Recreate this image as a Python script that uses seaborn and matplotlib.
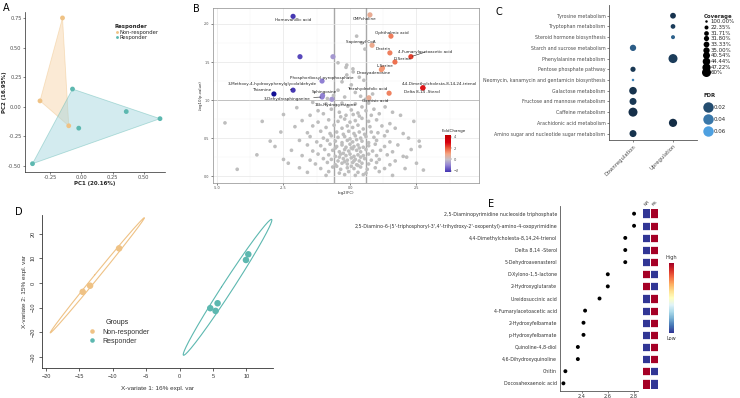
import numpy as np
import pandas as pd
import matplotlib
matplotlib.use("Agg")
import matplotlib.pyplot as plt
import seaborn as sns
from matplotlib.colors import LinearSegmentedColormap, Normalize
from matplotlib.cm import ScalarMappable
from matplotlib.lines import Line2D
from matplotlib.ticker import FormatStrFormatter

# ─────────────────────────────────────────
# DATA
# ─────────────────────────────────────────
# A: PCA scores
pca_pc1 = [-0.15, -0.33, -0.10, -0.07, 0.36, 0.63, -0.39, -0.02]
pca_pc2 = [0.75, 0.05, -0.16, 0.15, -0.04, -0.10, -0.48, -0.18]
pca_group = ['Non-responder'] * 3 + ['Responder'] * 5

# B: volcano, highlighted metabolites
sig_names = ['Homovanillic acid', '', '', 'Phosphoribosyl pyrophosphate',
             '3-Methoxy-4-hydroxyphenylglycolaldehyde', 'Thiamine', 'Sphingosine',
             '3-Dehydrosphinganine', '16b-Hydroxyestrone', 'CMPcholine',
             'Ophthalmic acid', 'Sapienoyl CoA', 'Dextrin', '4-Fumarylacetoacetic acid',
             'D-Serine', 'L-Serine', 'Deoxyadenosine',
             '4,4-Dimethylcholesta-8,14,24-trienol', 'Delta 8,14 -Sterol',
             'Tetrahydrofolic acid', 'Gentisic acid']
sig_fc = [-2.14, -1.88, -0.64, -1.05, -2.14, -2.86, -1.03, -1.05, -0.68, 0.75,
          1.54, 0.83, 1.50, 2.29, 1.69, 1.22, 1.18, 2.74, 2.74, 1.47, 0.71]
sig_logp = [2.10, 1.57, 1.57, 1.25, 1.13, 1.08, 1.06, 1.04, 1.01, 2.12,
            1.84, 1.72, 1.62, 1.57, 1.50, 1.42, 1.40, 1.16, 1.16, 1.09, 1.03]

# B: volcano, non-significant metabolites
bg_fc = [0.25, 0.44, 0.56, -0.12, 0.12, -0.12, 0.35, -0.30, 0.05, 0.52, -0.45, 0.20, 0.40, -0.20, 0.58, -0.62, 0.85, -0.85,
         -0.45, -0.15, 0.11,
         -2.0, -1.4, -0.9, -0.55, -0.3, -0.08, 0.2, 0.45, 0.7, 1.32, -1.2, -0.7, -0.4, 0.05, 0.3, 0.6, 0.9, 1.6,
         -2.5, -1.5, -1.0, -0.15, 0.12, 0.8, 1.1, 1.9,
         -4.7, -3.3, -1.8, -1.2, -0.8, -0.45, -0.2, 0.0, 0.2, 0.45, 0.7, 1.0, 1.5, 2.4,
         -2.07, -1.4, -0.9, -0.6, -0.3, -0.1, 0.1, 0.3, 0.5, 0.75, 1.2, 1.7, -0.35, 0.35,
         -2.6, -1.6, -1.1, -0.75, -0.5, -0.25, -0.05, 0.15, 0.35, 0.55, 0.8, 1.05, 1.4, 2.0,
         -1.5, -1.0, -0.7, -0.45, -0.2, 0.0, 0.2, 0.4, 0.6, 0.9, 1.3, 2.2,
         -3.0, -1.9, -1.25, -0.85, -0.55, -0.3, -0.1, 0.1, 0.25, 0.45, 0.7, 1.0, 1.5, 2.6,
         -2.82, -1.6, -1.1, -0.75, -0.5, -0.3, -0.15, 0.0, 0.15, 0.3, 0.5, 0.7, 0.95, 1.3, 1.8, 2.63,
         -2.2, -1.4, -0.95, -0.65, -0.4, -0.2, -0.05, 0.1, 0.25, 0.4, 0.6, 0.85, 1.15, 1.6, 2.3,
         -0.55, 0.05, 0.35, -0.25,
         -3.5, -1.8, -1.2, -0.8, -0.55, -0.35, -0.15, 0.0, 0.15, 0.3, 0.5, 0.7, 1.0, 1.4, 2.0,
         -2.5, -1.5, -1.0, -0.7, -0.45, -0.25, -0.1, 0.05, 0.2, 0.35, 0.55, 0.8, 1.1, 1.7, 2.13,
         -2.32, -1.3, -0.85, -0.55, -0.3, -0.1, 0.1, 0.25, 0.45, 0.7, 1.0, 1.5, 2.5,
         -0.4, 0.4, -0.2, 0.15,
         -4.24, -1.9, -1.1, -0.65, -0.35, -0.1, 0.15, 0.4, 0.65, 0.95, 1.3, 2.07,
         -1.6, -0.8, -0.4, -0.05, 0.3, 0.6, 1.1, 2.76,
         -0.9, -0.2, 0.2, 0.5, 1.6, -0.5, 0.05, 0.3]
bg_logp = [1.84, 1.75, 1.67, 1.46, 1.37, 1.33, 1.30, 1.24, 1.20, 1.26, 1.13, 1.10, 1.05, 1.04, 1.01, 1.06, 1.08, 1.02,
           1.49, 1.43, 1.41,
           0.90, 0.97, 0.95, 0.93, 0.96, 0.92, 0.95, 0.91, 0.96, 0.91, 0.86, 0.88, 0.84, 0.87, 0.83, 0.86, 0.88, 0.84,
           0.81, 0.80, 0.82, 0.80, 0.81, 0.80, 0.82, 0.80,
           0.70, 0.72, 0.73, 0.71, 0.74, 0.72, 0.75, 0.71, 0.73, 0.76, 0.72, 0.74, 0.69, 0.72,
           0.65, 0.66, 0.64, 0.67, 0.63, 0.66, 0.64, 0.67, 0.62, 0.65, 0.66, 0.63, 0.78, 0.79,
           0.58, 0.57, 0.59, 0.56, 0.58, 0.55, 0.59, 0.56, 0.58, 0.55, 0.58, 0.57, 0.59, 0.56,
           0.52, 0.50, 0.53, 0.51, 0.52, 0.49, 0.53, 0.50, 0.52, 0.51, 0.53, 0.50,
           0.46, 0.47, 0.45, 0.47, 0.46, 0.44, 0.47, 0.45, 0.48, 0.46, 0.44, 0.47, 0.45, 0.46,
           0.39, 0.41, 0.40, 0.42, 0.39, 0.41, 0.38, 0.42, 0.39, 0.41, 0.38, 0.40, 0.42, 0.39, 0.41, 0.39,
           0.34, 0.33, 0.35, 0.34, 0.32, 0.35, 0.33, 0.36, 0.34, 0.32, 0.35, 0.33, 0.34, 0.32, 0.35,
           0.37, 0.37, 0.37, 0.30,
           0.28, 0.27, 0.29, 0.28, 0.26, 0.29, 0.27, 0.29, 0.26, 0.28, 0.27, 0.29, 0.27, 0.28, 0.26,
           0.22, 0.21, 0.23, 0.22, 0.20, 0.23, 0.21, 0.24, 0.22, 0.20, 0.23, 0.21, 0.22, 0.20, 0.25,
           0.17, 0.16, 0.18, 0.15, 0.17, 0.16, 0.18, 0.15, 0.17, 0.16, 0.18, 0.15, 0.17,
           0.25, 0.25, 0.19, 0.20,
           0.09, 0.11, 0.10, 0.12, 0.09, 0.11, 0.10, 0.12, 0.09, 0.11, 0.10, 0.10,
           0.05, 0.06, 0.04, 0.06, 0.05, 0.04, 0.06, 0.08,
           0.01, 0.02, 0.01, 0.02, 0.01, 0.13, 0.13, 0.14]

# C: pathway enrichment
pathways = ['Tyrosine metabolism', 'Tryptophan metabolism', 'Steroid hormone biosynthesis',
            'Starch and sucrose metabolism', 'Phenylalanine metabolism', 'Pentose phosphate pathway',
            'Neomycin, kanamycin and gentamicin biosynthesis', 'Galactose metabolism',
            'Fructose and mannose metabolism', 'Caffeine metabolism',
            'Arachidonic acid metabolism', 'Amino sugar and nucleotide sugar metabolism']
path_dir = ['Upregulation', 'Upregulation', 'Upregulation', 'Downregulation', 'Upregulation',
            'Downregulation', 'Downregulation', 'Downregulation', 'Downregulation',
            'Downregulation', 'Upregulation', 'Downregulation']
path_cov = ['33.33%', '31.71%', '22.35%', '35.00%', '60%', '31.80%', '100.00%',
            '44.44%', '40.54%', '60%', '47.22%', '40.54%']
path_fdr = [0.008, 0.012, 0.030, 0.028, 0.012, 0.010, 0.045, 0.008, 0.010, 0.006, 0.005, 0.008]
cov_levels = ['100.00%', '22.35%', '31.71%', '31.80%', '33.33%', '35.00%',
              '40.54%', '44.44%', '47.22%', '60%']
fdr_breaks = [0.02, 0.04, 0.06]
directions = ['Downregulation', 'Upregulation']

# D: PLS-DA scores
plsda_x1 = [-14.5, -13.4, -9.05, 10.3, 9.95, 5.7, 4.6, 5.4]
plsda_x2 = [-3.6, -1.1, 14.0, 11.6, 9.3, -8.2, -10.2, -11.3]
plsda_group = ['Non-responder'] * 3 + ['Responder'] * 5

# E: VIP scores + group heatmap
vip_names = ['2,5-Diaminopyrimidine nucleoside triphosphate',
             "2,5-Diamino-6-(5'-triphosphoryl-3',4'-trihydroxy-2'-oxopentyl)-amino-4-oxopyrimidine",
             '4,4-Dimethylcholesta-8,14,24-trienol', 'Delta 8,14 -Sterol', '5-Dehydroavenasterol',
             'D-Xylono-1,5-lactone', '2-Hydroxyglutarate', 'Ureidosuccinic acid',
             '4-Fumarylacetoacetic acid', '2-Hydroxyfelbamate', 'p-Hydroxyfelbamate',
             'Quinoline-4,8-diol', '4,6-Dihydroxyquinoline', 'Chitin', 'Docosahexaenoic acid']
vip_score = [2.80, 2.80, 2.733, 2.733, 2.733, 2.60, 2.60, 2.537, 2.427, 2.415, 2.415,
             2.372, 2.372, 2.277, 2.262]
nr_z = [-0.71, -0.71, -0.71, -0.71, -0.71, 0.71, 0.71, -0.71, -0.71, -0.71, -0.71,
        -0.71, -0.71, 0.71, 0.71]
rs_z = [0.71, 0.71, 0.71, 0.71, 0.71, -0.71, -0.71, 0.71, 0.71, 0.71, 0.71,
        0.71, 0.71, -0.71, -0.71]

# ─────────────────────────────────────────
# SETUP
# ─────────────────────────────────────────
sns.set_theme(style='white')
plt.rcParams['font.family'] = ['DejaVu Sans']
plt.rcParams.update({'xtick.bottom': True, 'ytick.left': True,
                     'xtick.major.size': 1.5, 'ytick.major.size': 1.5,
                     'xtick.major.width': 0.4, 'ytick.major.width': 0.4,
                     'xtick.major.pad': 1, 'ytick.major.pad': 1,
                     'axes.linewidth': 0.5})

W, H = 740, 398
fig = plt.figure(figsize=(7.4, 3.98), dpi=100, facecolor='white')


def box(l, t, r, b):
    return [l / W, 1 - b / H, (r - l) / W, (b - t) / H]


def convex_hull(xs, ys):
    pts = sorted(set(zip(xs, ys)))

    def cross(o, a, b):
        return (a[0] - o[0]) * (b[1] - o[1]) - (a[1] - o[1]) * (b[0] - o[0])
    lower, upper = [], []
    for p in pts:
        while len(lower) >= 2 and cross(lower[-2], lower[-1], p) <= 0:
            lower.pop()
        lower.append(p)
    for p in reversed(pts):
        while len(upper) >= 2 and cross(upper[-2], upper[-1], p) <= 0:
            upper.pop()
        upper.append(p)
    hull = lower[:-1] + upper[:-1]
    return [p[0] for p in hull], [p[1] for p in hull]


def conf_ellipse(x, y, n=300):
    cov = np.cov(x, y)
    vals, vecs = np.linalg.eigh(cov)
    t = np.linspace(0, 2 * np.pi, n)
    circ = np.vstack([np.cos(t), np.sin(t)])
    pts = vecs @ (np.sqrt(np.clip(vals, 0, None) * 5.991)[:, None] * circ)
    return pts[0] + np.mean(x), pts[1] + np.mean(y)


def style_ticks(ax, size, color='#4D4D4D'):
    for lbl in ax.get_xticklabels() + ax.get_yticklabels():
        lbl.set_fontsize(size)
        lbl.set_color(color)


grp_col = {'Non-responder': '#EFC285', 'Responder': '#5DB8B0'}
grp_fill = {'Non-responder': '#F8D2A2', 'Responder': '#9ED3DD'}

# ─────────────────────────────────────────
# A: PCA
# ─────────────────────────────────────────
axA = fig.add_axes(box(25, 12, 165, 172))
dfA = pd.DataFrame({'PC1': pca_pc1, 'PC2': pca_pc2, 'Responder': pca_group})
for g, sub in dfA.groupby('Responder'):
    hx, hy = convex_hull(sub['PC1'].values, sub['PC2'].values)
    axA.fill(hx, hy, facecolor=grp_fill[g], alpha=0.45, edgecolor=grp_col[g], lw=0.6)
sns.scatterplot(data=dfA, x='PC1', y='PC2', hue='Responder', palette=grp_col,
                s=12, edgecolor='none', ax=axA)
axA.set_xlim(-0.45, 0.67)
axA.set_ylim(-0.55, 0.80)
axA.set_xticks([-0.25, 0, 0.25, 0.5])
axA.set_yticks([-0.5, -0.25, 0, 0.25, 0.5, 0.75])
axA.xaxis.set_major_formatter(FormatStrFormatter('%.2f'))
axA.yaxis.set_major_formatter(FormatStrFormatter('%.2f'))
sns.despine(ax=axA)
style_ticks(axA, 3.7)
axA.set_xlabel('PC1 (20.16%)', fontsize=4, fontweight='bold', labelpad=0.5)
axA.set_ylabel('PC2 (16.95%)', fontsize=4, fontweight='bold', labelpad=1)
legA = axA.legend(title='Responder', loc='upper left', bbox_to_anchor=(0.62, 0.94),
                  frameon=False, fontsize=3.8, markerscale=0.6, handletextpad=0.2,
                  handlelength=0.8, labelspacing=0.05, borderpad=0, alignment='left',
                  title_fontproperties={'weight': 'bold', 'size': 3.9})

# ─────────────────────────────────────────
# B: Volcano
# ─────────────────────────────────────────
axB = fig.add_axes(box(213, 8, 479, 183))
fc_vmin, fc_vmax = -3.0, 4.3
fc_nodes = [(-3, '#0a0a90'), (-2, '#5040b8'), (-1, '#9484d4'), (0, '#c4bec8'),
            (1, '#f4a582'), (2, '#ea5a3a'), (3, '#d7000f'), (4.3, '#c00000')]
fc_cmap = LinearSegmentedColormap.from_list(
    'fc', [((v - fc_vmin) / (fc_vmax - fc_vmin), c) for v, c in fc_nodes])
fc_norm = Normalize(fc_vmin, fc_vmax)

dfB_bg = pd.DataFrame({'log2FC': bg_fc, 'logp': bg_logp})
sns.scatterplot(data=dfB_bg, x='log2FC', y='logp', color='#BEBEBE', s=7,
                edgecolor='none', ax=axB)
dfB = pd.DataFrame({'name': sig_names, 'log2FC': sig_fc, 'logp': sig_logp})
sns.scatterplot(data=dfB, x='log2FC', y='logp', hue='log2FC', palette=fc_cmap,
                hue_norm=fc_norm, s=14, edgecolor='none', legend=False, ax=axB)
axB.axvline(-0.585, color='#A8A8A8', lw=1.0, zorder=0.5)
axB.axvline(0.585, color='#A8A8A8', lw=1.0, zorder=0.5)
axB.axhline(1.0, color='#555555', lw=0.6, zorder=0.5)
axB.set_xlim(-5.15, 4.85)
axB.set_ylim(-0.09, 2.21)
axB.set_xticks([-5, -2.5, 0, 2.5])
axB.set_xticks([-3.75, -1.25, 1.25, 3.75], minor=True)
axB.set_yticks([0, 0.5, 1, 1.5, 2])
axB.set_yticks([0.25, 0.75, 1.25, 1.75], minor=True)
axB.xaxis.set_major_formatter(FormatStrFormatter('%.1f'))
axB.yaxis.set_major_formatter(FormatStrFormatter('%.1f'))
axB.grid(which='major', color='#E6E6E6', lw=0.5)
axB.grid(which='minor', color='#F2F2F2', lw=0.3)
axB.set_axisbelow(True)
for sp in axB.spines.values():
    sp.set_color('#8C8C8C')
    sp.set_linewidth(0.5)
style_ticks(axB, 2.4)
axB.tick_params(which='minor', length=0)
axB.set_xlabel('log2(FC)', fontsize=2.8, labelpad=0.5)
axB.set_ylabel('-log10(p-value)', fontsize=2.8, labelpad=1)

label_pos = {
    'Homovanillic acid': (-2.13, 2.05),
    'Phosphoribosyl pyrophosphate': (-1.06, 1.29),
    '3-Methoxy-4-hydroxyphenylglycolaldehyde': (-2.93, 1.21),
    'Thiamine': (-3.32, 1.13),
    'Sphingosine': (-0.95, 1.11),
    '3-Dehydrosphinganine': (-2.37, 1.02),
    '16b-Hydroxyestrone': (-0.56, 0.93),
    'CMPcholine': (0.53, 2.06),
    'Ophthalmic acid': (1.59, 1.88),
    'Sapienoyl CoA': (0.40, 1.76),
    'Dextrin': (1.23, 1.67),
    '4-Fumarylacetoacetic acid': (2.82, 1.63),
    'D-Serine': (1.98, 1.54),
    'L-Serine': (1.32, 1.45),
    'Deoxyadenosine': (0.88, 1.35),
    '4,4-Dimethylcholesta-8,14,24-trienol': (3.38, 1.21),
    'Delta 8,14 -Sterol': (2.70, 1.10),
    'Tetrahydrofolic acid': (0.63, 1.14),
    'Gentisic acid': (0.94, 0.99),
}
with_segment = ['3-Methoxy-4-hydroxyphenylglycolaldehyde', '3-Dehydrosphinganine',
                '4-Fumarylacetoacetic acid']
for name, fc, lp in zip(sig_names, sig_fc, sig_logp):
    if name not in label_pos:
        continue
    tx, ty = label_pos[name]
    if name in with_segment:
        axB.annotate(name, xy=(fc, lp), xytext=(tx, ty), fontsize=3.0, color='#222222',
                     ha='center', va='center', annotation_clip=False,
                     arrowprops=dict(arrowstyle='-', lw=0.4, color='#222222',
                                     shrinkA=0, shrinkB=1))
    else:
        axB.text(tx, ty, name, fontsize=3.0, color='#222222', ha='center', va='center',
                 clip_on=False)

caxB = fig.add_axes(box(445, 135, 451, 172))
cbB = fig.colorbar(ScalarMappable(norm=fc_norm, cmap=fc_cmap), cax=caxB, ticks=[-2, 0, 2, 4])
cbB.ax.set_ylim(-2.2, 4.3)
cbB.outline.set_visible(False)
cbB.ax.tick_params(labelsize=2.6, length=1, width=0.3, pad=1, colors='#4D4D4D')
fig.text(442 / W, 1 - 131 / H, 'FoldChange', fontsize=3.0, color='#222222',
         ha='left', va='center')

# ─────────────────────────────────────────
# C: Pathway dot plot
# ─────────────────────────────────────────
axC = fig.add_axes(box(609, 5, 697, 140))
fdr_cmap = LinearSegmentedColormap.from_list('fdr', ['#132B43', '#56B1F7'])
fdr_norm = Normalize(0.004, 0.068)
cov_diam = [2.5, 4.0, 4.7, 5.2, 5.8, 6.3, 7.0, 7.6, 8.2, 9.0]
cov_sizes = {lv: (d * 0.72) ** 2 for lv, d in zip(cov_levels, cov_diam)}
dfC = pd.DataFrame({'pathway': pathways, 'direction': path_dir,
                    'coverage': path_cov, 'FDR': path_fdr})
dfC['xpos'] = dfC['direction'].map({d: i for i, d in enumerate(directions)})
dfC['ypos'] = np.arange(len(dfC))
sns.scatterplot(data=dfC, x='xpos', y='ypos', size='coverage', sizes=cov_sizes,
                hue='FDR', palette=fdr_cmap, hue_norm=fdr_norm, edgecolor='none',
                legend=False, ax=axC)
axC.set_xlim(-0.6, 1.6)
axC.set_ylim(11.6, -1.0)
axC.set_yticks(range(len(pathways)))
axC.set_yticklabels(pathways)
axC.set_xticks(range(len(directions)))
axC.set_xticklabels(directions, rotation=45, ha='right', rotation_mode='anchor')
axC.set_xlabel('')
axC.set_ylabel('')
sns.despine(ax=axC)
for sp in ['left', 'bottom']:
    axC.spines[sp].set_color('#555555')
    axC.spines[sp].set_linewidth(0.6)
style_ticks(axC, 3.4)
for lbl in axC.get_xticklabels():
    lbl.set_fontsize(3.8)

cov_handles = [Line2D([], [], ls='', marker='o', color='black', markeredgewidth=0,
                      markersize=d * 0.72) for d in cov_diam]
legC1 = fig.legend(cov_handles, cov_levels, title='Coverage', loc='upper left',
                   bbox_to_anchor=(701 / W, 1 - 11 / H), frameon=False, fontsize=3.9,
                   handlelength=1.0, handletextpad=0.3, labelspacing=0.12, borderpad=0,
                   alignment='left', title_fontproperties={'weight': 'bold', 'size': 3.9})
fdr_handles = [Line2D([], [], ls='', marker='o', color=fdr_cmap(fdr_norm(v)),
                      markeredgewidth=0, markersize=7.5) for v in fdr_breaks]
legC2 = fig.legend(fdr_handles, [f'{v:.2f}' for v in fdr_breaks], title='FDR',
                   loc='upper left', bbox_to_anchor=(701 / W, 1 - 90 / H), frameon=False,
                   fontsize=3.9, handlelength=1.4, handletextpad=0.4, labelspacing=1.3,
                   borderpad=0, alignment='left',
                   title_fontproperties={'weight': 'bold', 'size': 3.9})

# ─────────────────────────────────────────
# D: PLS-DA
# ─────────────────────────────────────────
axD = fig.add_axes(box(42, 215, 273, 368))
dfD = pd.DataFrame({'X1': plsda_x1, 'X2': plsda_x2, 'Groups': plsda_group})
for g, sub in dfD.groupby('Groups'):
    ex, ey = conf_ellipse(sub['X1'].values, sub['X2'].values)
    axD.plot(ex, ey, color=grp_col[g], lw=0.8)
sns.scatterplot(data=dfD, x='X1', y='X2', hue='Groups', palette=grp_col, s=22,
                edgecolor='none', ax=axD)
axD.set_xlim(-20.6, 14.0)
axD.set_ylim(-34.4, 27.5)
axD.set_xticks([-20, -15, -10, -5, 0, 5, 10])
axD.set_yticks([-30, -20, -10, 0, 10, 20])
sns.despine(ax=axD)
for sp in ['left', 'bottom']:
    axD.spines[sp].set_color('#333333')
    axD.spines[sp].set_linewidth(0.6)
axD.tick_params(length=2.5, width=0.5, pad=2)
style_ticks(axD, 4.0, '#333333')
for lbl in axD.get_xticklabels() + axD.get_yticklabels():
    lbl.set_fontfamily('Liberation Sans')
for lbl in axD.get_yticklabels():
    lbl.set_rotation(90)
    lbl.set_va('center')
axD.set_xlabel('X-variate 1: 16% expl. var', fontsize=4.6, family='Liberation Sans',
               color='#333333', labelpad=5)
axD.set_ylabel('X-variate 2: 15% expl. var', fontsize=4.6, family='Liberation Sans',
               color='#333333', labelpad=3)
legD = axD.legend(title='Groups', loc='upper left', bbox_to_anchor=(0.17, 0.34),
                  frameon=False, fontsize=5.0, markerscale=0.7, handletextpad=0.6,
                  labelspacing=0.3, borderpad=0,
                  title_fontproperties={'size': 5.0, 'family': 'Liberation Sans'})
for t in legD.get_texts():
    t.set_fontfamily('Liberation Sans')
    t.set_color('#333333')

# ─────────────────────────────────────────
# E: VIP dot plot + heatmap
# ─────────────────────────────────────────
axE = fig.add_axes(box(560, 206.4, 638, 390.6))
dfE = pd.DataFrame({'name': vip_names, 'VIP': vip_score})
dfE['ypos'] = np.arange(len(dfE))
sns.scatterplot(data=dfE, x='VIP', y='ypos', color='black', s=8, edgecolor='none', ax=axE)
axE.set_xlim(2.236, 2.83)
axE.set_ylim(14.6, -0.6)
axE.set_yticks(range(len(vip_names)))
axE.set_yticklabels(vip_names)
axE.set_xticks([2.4, 2.6, 2.8])
axE.set_xlabel('')
axE.set_ylabel('')
sns.despine(ax=axE)
for sp in ['left', 'bottom']:
    axE.spines[sp].set_color('#555555')
    axE.spines[sp].set_linewidth(0.6)
axE.tick_params(axis='y', length=0, pad=2)
style_ticks(axE, 3.4, '#333333')
for lbl in axE.get_xticklabels():
    lbl.set_fontsize(3.6)

axH = fig.add_axes(box(642, 207.6, 658, 389.4))
caxE = fig.add_axes(box(669, 263.3, 674, 332.7))
dfH = pd.DataFrame({'NR': nr_z, 'RS': rs_z}, index=vip_names)
sns.heatmap(dfH, cmap='RdYlBu_r', vmin=-0.71, vmax=0.71, ax=axH, cbar_ax=caxE,
            xticklabels=True, yticklabels=False, linewidths=0.4, linecolor='white')
axH.hlines(np.arange(1, len(vip_names)), 0, 2, colors='white', lw=3.4)
axH.xaxis.tick_top()
axH.set_xticks([0.5, 1.5])
axH.set_xticklabels(['NR', 'RS'], rotation=45, ha='left', rotation_mode='anchor',
                    fontsize=3.2, color='#333333')
axH.tick_params(axis='x', length=0, pad=1)
axH.set_ylabel('')
caxE.set_yticks([])
for sp in caxE.spines.values():
    sp.set_visible(False)
fig.text(671.5 / W, 1 - 257 / H, 'High', fontsize=3.6, color='#333333', ha='center', va='center')
fig.text(671.5 / W, 1 - 339 / H, 'Low', fontsize=3.6, color='#333333', ha='center', va='center')

# panel letters
for letter, (px, py) in {'A': (3, 3), 'B': (193, 4), 'C': (496, 7),
                         'D': (15, 207), 'E': (488, 199)}.items():
    fig.text(px / W, 1 - py / H, letter, fontsize=7, color='black', ha='left', va='top')

fig.savefig('out.png', dpi=100)
